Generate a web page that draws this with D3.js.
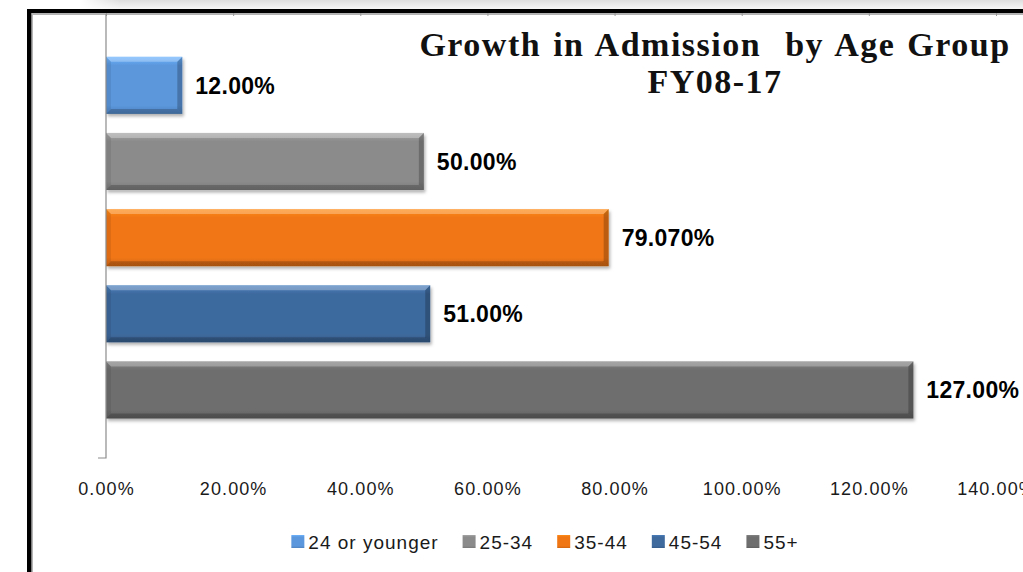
<!DOCTYPE html>
<html>
<head>
<meta charset="utf-8">
<script src="https://cdn.jsdelivr.net/npm/d3@7"></script>
<style>
  body { margin: 0; background: #fff; }
  svg { display: block; }
</style>
</head>
<body>
<svg width="1023" height="572"></svg>
<script>
// Data
var categories = ['24 or younger', '25-34', '35-44', '45-54', '55+'];
var values = [0.12, 0.50, 0.7907, 0.51, 1.27];
var valueLabels = ['12.00%', '50.00%', '79.070%', '51.00%', '127.00%'];
var barColors = ['#5b97dc', '#8b8b8b', '#f07614', '#3e6a9e', '#6e6e6e'];
var tickValues = [0, 0.2, 0.4, 0.6, 0.8, 1.0, 1.2, 1.4];
var titleLines = ['Growth in Admission  by Age Group', 'FY08-17'];

var width = 1023;
var height = 572;
var svg = d3.select('svg');
var defs = svg.append('defs');

var x = d3.scaleLinear().domain([0, 1.4]).range([106, 996]);
var y = d3.scaleBand()
  .domain(categories)
  .range([14, 458])
  .paddingInner(0.25)
  .paddingOuter(0.54)
  .align(0.52);

// shadow above the frame
var topGrad = defs.append('linearGradient').attr('id', 'topShade')
  .attr('x1', 0).attr('y1', 0).attr('x2', 0).attr('y2', 1);
topGrad.append('stop').attr('offset', 0).attr('stop-color', '#dedede');
topGrad.append('stop').attr('offset', 1).attr('stop-color', '#f7f7f7');
var leftFade = defs.append('linearGradient').attr('id', 'leftFade');
leftFade.append('stop').attr('offset', 0).attr('stop-color', '#fff').attr('stop-opacity', 1);
leftFade.append('stop').attr('offset', 1).attr('stop-color', '#fff').attr('stop-opacity', 0);

svg.append('rect').attr('x', 80).attr('y', 0).attr('width', width - 80).attr('height', 9)
  .attr('fill', 'url(#topShade)');
svg.append('rect').attr('x', 80).attr('y', 0).attr('width', 40).attr('height', 9)
  .attr('fill', 'url(#leftFade)');

// black frame
svg.append('rect').attr('x', 27).attr('y', 9).attr('width', width - 27).attr('height', 4).attr('fill', '#000');
svg.append('rect').attr('x', 27).attr('y', 9).attr('width', 4.5).attr('height', height - 9).attr('fill', '#000');
svg.append('line').attr('x1', 31.5).attr('x2', width).attr('y1', 14).attr('y2', 14)
  .attr('stroke', '#9a9a9a').attr('stroke-width', 1.5);
svg.append('line').attr('x1', 32.5).attr('x2', 32.5).attr('y1', 13).attr('y2', height)
  .attr('stroke', '#b5b5b5').attr('stroke-width', 1);

// small tick marks on the top line
svg.append('g')
  .attr('transform', 'translate(0,13)')
  .call(d3.axisBottom(x).tickValues(tickValues).tickSize(3).tickFormat(''))
  .call(function (g) {
    g.select('.domain').remove();
    g.selectAll('line').attr('stroke', '#999');
  });

// drop shadow for bars
var shadow = defs.append('filter').attr('id', 'barShadow')
  .attr('x', '-5%').attr('y', '-20%').attr('width', '115%').attr('height', '150%');
shadow.append('feDropShadow').attr('dx', 1.5).attr('dy', 2.5).attr('stdDeviation', 1.8)
  .attr('flood-color', '#000').attr('flood-opacity', 0.3);

barColors.forEach(function (c, i) {
  var gr = defs.append('linearGradient').attr('id', 'barGrad' + i)
    .attr('x1', 0).attr('y1', 0).attr('x2', 0).attr('y2', 1);
  gr.append('stop').attr('offset', 0).attr('stop-color', d3.color(c).brighter(0.5));
  gr.append('stop').attr('offset', 0.15).attr('stop-color', c);
  gr.append('stop').attr('offset', 0.85).attr('stop-color', c);
  gr.append('stop').attr('offset', 1).attr('stop-color', d3.color(c).darker(0.4));
});

// bars
var bars = svg.append('g').selectAll('g')
  .data(categories)
  .enter().append('g');

bars.append('rect')
  .attr('x', x(0))
  .attr('y', function (d) { return y(d); })
  .attr('width', function (d, i) { return x(values[i]) - x(0); })
  .attr('height', y.bandwidth())
  .attr('fill', function (d, i) { return 'url(#barGrad' + i + ')'; })
  .attr('filter', 'url(#barShadow)');

// bevel edges
var b = 5;
function bevel(sel, fn, color, op) {
  sel.append('polygon')
    .attr('points', function (d, i) {
      var x0 = x(0), x1 = x(values[i]), y0 = y(d), y1 = y(d) + y.bandwidth();
      return fn(x0, x1, y0, y1).map(function (p) { return p.join(','); }).join(' ');
    })
    .attr('fill', color)
    .attr('fill-opacity', op);
}
bevel(bars, function (x0, x1, y0, y1) {
  return [[x0, y0], [x1, y0], [x1 - b, y0 + b], [x0 + b, y0 + b]];
}, '#fff', 0.28);
bevel(bars, function (x0, x1, y0, y1) {
  return [[x0, y1], [x1, y1], [x1 - b, y1 - b], [x0 + b, y1 - b]];
}, '#000', 0.2);
bevel(bars, function (x0, x1, y0, y1) {
  return [[x0, y0], [x0 + b, y0 + b], [x0 + b, y1 - b], [x0, y1]];
}, '#000', 0.08);
bevel(bars, function (x0, x1, y0, y1) {
  return [[x1, y0], [x1 - b, y0 + b], [x1 - b, y1 - b], [x1, y1]];
}, '#000', 0.22);

// value labels
bars.append('text')
  .attr('x', function (d, i) { return x(values[i]) + 13; })
  .attr('y', function (d) { return y(d) + y.bandwidth() / 2; })
  .attr('dy', '0.36em')
  .style('font-family', '"Liberation Sans", Arial, sans-serif')
  .style('font-weight', 'bold')
  .style('font-size', '23px')
  .style('letter-spacing', '0.3px')
  .attr('fill', '#000')
  .text(function (d, i) { return valueLabels[i]; });

// category axis line with bottom tick
var yr = y.range();
svg.append('path')
  .attr('d', 'M' + (x(0) - 8) + ',' + yr[1] + 'H' + x(0) + 'V' + yr[0])
  .attr('fill', 'none')
  .attr('stroke', '#8c8c8c')
  .attr('stroke-width', 1.2);

// value axis labels
svg.append('g')
  .attr('transform', 'translate(0,482)')
  .call(d3.axisBottom(x).tickValues(tickValues).tickSize(0).tickPadding(0).tickFormat(d3.format('.2%')))
  .call(function (g) {
    g.select('.domain').remove();
    g.selectAll('text')
      .style('font-family', '"Liberation Sans", Arial, sans-serif')
      .style('font-size', '18px')
      .style('letter-spacing', '1.1px')
      .attr('fill', '#1a1a1a');
  });

// title
svg.append('g').selectAll('text')
  .data(titleLines)
  .enter().append('text')
  .attr('x', 715)
  .attr('y', function (d, i) { return 56 + i * 37; })
  .attr('text-anchor', 'middle')
  .style('white-space', 'pre')
  .style('font-family', '"Liberation Serif", "Times New Roman", serif')
  .style('font-weight', 'bold')
  .style('font-size', '34px')
  .style('letter-spacing', '1.5px')
  .style('word-spacing', '2px')
  .attr('fill', '#111')
  .text(function (d) { return d; });

// legend
var legend = svg.append('g');
var lx = 0;
categories.forEach(function (c, i) {
  var item = legend.append('g').attr('transform', 'translate(' + lx + ',0)');
  item.append('rect').attr('x', 0).attr('y', -7).attr('width', 13).attr('height', 13)
    .attr('fill', 'url(#barGrad' + i + ')');
  var t = item.append('text').attr('x', 17).attr('y', 0).attr('dy', '0.35em')
    .style('font-family', '"Liberation Sans", Arial, sans-serif')
    .style('font-size', '19px')
    .style('letter-spacing', '1px')
    .attr('fill', '#1a1a1a')
    .text(c);
  lx += 17 + t.node().getComputedTextLength() + 24;
});
var legendW = lx - 24;
legend.attr('transform', 'translate(' + (545 - legendW / 2) + ',542)');
</script>
</body>
</html>
